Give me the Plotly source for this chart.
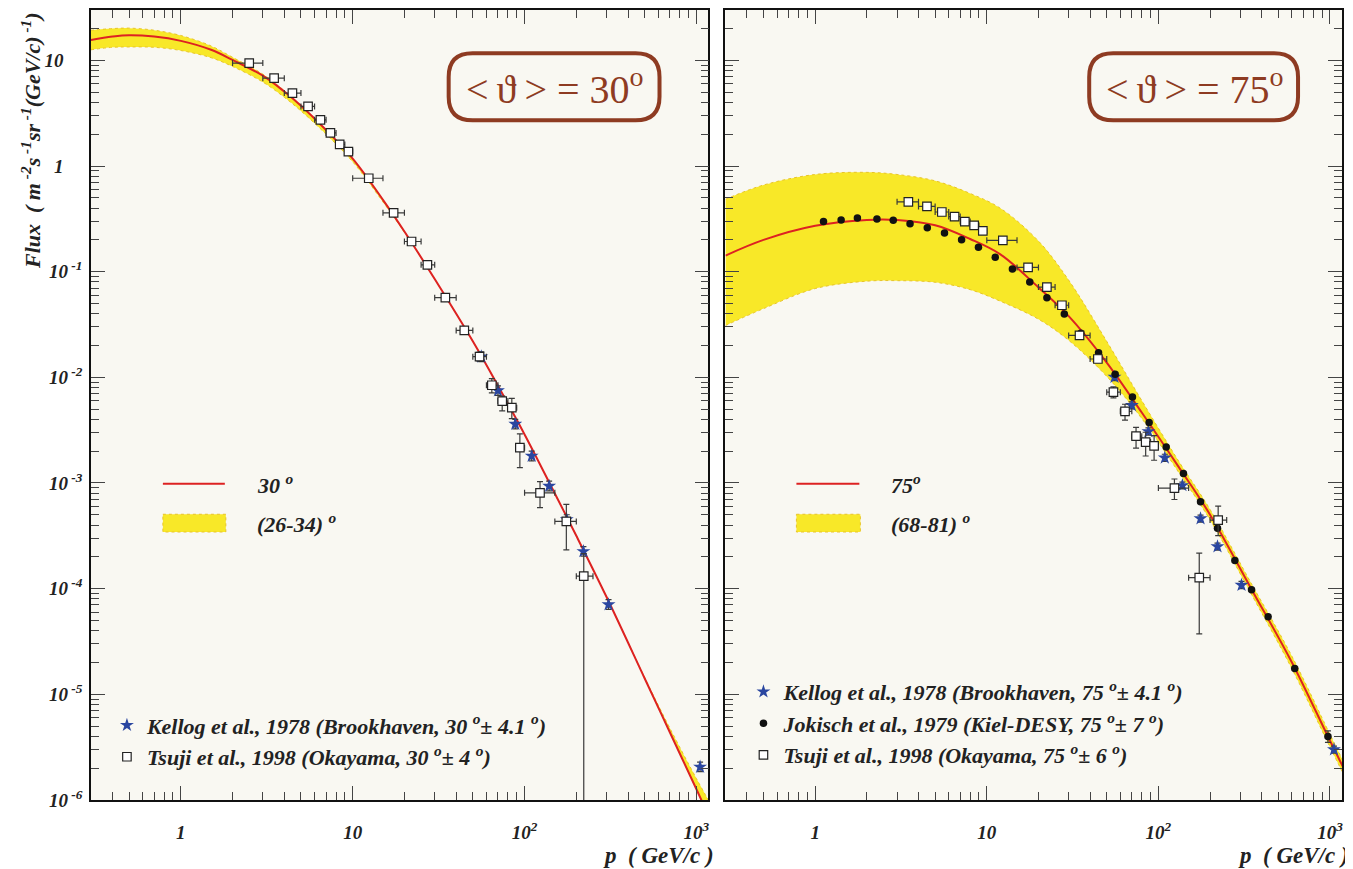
import plotly.graph_objects as go

W, H = 1353, 869
OFF = 8                       # page body margin of the exported html
FW, FH = W - OFF, H - OFF
SERIF = "Liberation Serif"
RED = "#DD2222"
YEL = "#F8E828"
YEL_EDGE = "#E8C42A"
BLUE = "#2A46A0"
BROWN = "#8E3B22"
ERRC = "#3a3a3a"
BG = "#F9F8F2"

# ---------------- curves ----------------
p30 = [0.3, 0.4, 0.5, 0.7, 1, 1.5, 2, 3, 4, 5, 7, 10, 15, 20, 30, 50, 70, 100, 150, 200, 300, 500, 700, 1000, 1200]
flux30 = [15.6, 16.8, 17.3, 16.8, 15.3, 12.6, 10.1, 7.16, 5.07, 3.72, 2.19, 1.175, 0.479, 0.240, 0.0851, 0.0219,
          0.00832, 0.00288, 7.94e-4, 3.16e-4, 8.32e-5, 1.41e-5, 4.37e-6, 1.26e-6, 6.61e-7]
band30_hi = [19.3, 20.0, 20.2, 19.3, 17.2, 13.7, 10.7, 7.41, 5.17, 3.76, 2.21, 1.175, 0.479, 0.240, 0.0851, 0.0219,
             0.00832, 0.00288, 7.94e-4, 3.16e-4, 8.32e-5, 1.44e-5, 4.79e-6, 1.59e-6, 9.34e-7]
band30_lo = [12.6, 13.3, 13.4, 13.3, 12.4, 10.6, 8.76, 6.24, 4.47, 3.32, 2.00, 1.096, 0.457, 0.235, 0.0851, 0.0219,
             0.00832, 0.00288, 7.94e-4, 3.16e-4, 8.32e-5, 1.41e-5, 4.37e-6, 1.26e-6, 6.61e-7]

p75 = [0.3, 0.5, 1, 2, 3, 5, 8, 12, 20, 30, 50, 80, 130, 200, 350, 600, 1000, 1200]
flux75 = [0.142, 0.200, 0.272, 0.309, 0.309, 0.275, 0.204, 0.146, 0.071, 0.0379, 0.01377, 0.00464, 0.00145,
          5.01e-4, 9.77e-5, 2.00e-5, 3.63e-6, 2.00e-6]
band75_hi = [0.485, 0.661, 0.832, 0.871, 0.832, 0.724, 0.550, 0.398, 0.195, 0.0832, 0.0219, 0.00603, 0.00165,
             5.62e-4, 1.10e-4, 2.29e-5, 4.17e-6, 2.29e-6]
band75_lo = [0.0309, 0.0447, 0.0692, 0.0813, 0.0822, 0.0794, 0.0676, 0.0525, 0.0355, 0.0224, 0.0102, 0.00407,
             0.00129, 4.47e-4, 8.71e-5, 1.74e-5, 3.16e-6, 1.74e-6]

# ---------------- data: 30 deg ----------------
kel30_p = [56.0, 70.0, 88.3, 110, 139, 176, 220, 308, 1050]
kel30_f = [0.01567, 0.0075, 0.00361, 0.0018, 0.000935, 0.000451, 0.000225, 7.07e-5, 2.05e-6]
kel30_hi = [0.0174, 0.0083, 0.0040, 0.0020, 0.00104, 0.000500, 0.000250, 7.85e-5, 2.28e-6]
kel30_lo = [0.0141, 0.00675, 0.00325, 0.00162, 0.00084, 0.000406, 0.000203, 6.37e-5, 1.85e-6]

tsu30_p = [2.50, 3.49, 4.46, 5.50, 6.49, 7.42, 8.40, 9.44, 12.4, 17.3, 22.0, 27.2, 34.6, 44.6, 54.7, 64.5, 74.1,
           84.3, 93.9, 123, 175, 221]
tsu30_f = [9.44, 6.79, 4.90, 3.67, 2.74, 2.06, 1.60, 1.37, 0.766, 0.361, 0.193, 0.116, 0.0568, 0.0278, 0.01567,
           0.00841, 0.00596, 0.00516, 0.00216, 0.000806, 0.000432, 0.000131]
tsu30_plo = [2, 3, 4, 5, 6, 7, 8, 9, 10, 15, 20, 25, 30, 40, 50, 60, 70, 80, 90, 100, 150, 200]
tsu30_phi = [3, 4, 5, 6, 7, 8, 9, 10, 15, 20, 25, 30, 40, 50, 60, 70, 80, 90, 100, 150, 200, 250]
tsu30_fhi = [9.9, 7.1, 5.1, 3.85, 2.87, 2.16, 1.68, 1.44, 0.80, 0.38, 0.203, 0.122, 0.060, 0.0293, 0.0173,
             0.0097, 0.00664, 0.00632, 0.00292, 0.00103, 0.000627, 0.000214]
tsu30_flo = [9.0, 6.5, 4.7, 3.5, 2.61, 1.96, 1.52, 1.30, 0.73, 0.344, 0.184, 0.110, 0.054, 0.0264, 0.0142,
             0.00713, 0.00481, 0.00407, 0.0014, 0.000583, 0.000233, 1e-9]

# ---------------- data: 75 deg ----------------
kel75_p = [55.5, 70, 87.5, 109, 138, 176, 221, 305, 1055]
kel75_f = [0.01004, 0.00543, 0.00307, 0.00173, 0.000948, 0.00046, 0.00025, 0.000108, 2.99e-6]
kel75_hi = [0.0108, 0.00586, 0.00332, 0.00187, 0.00102, 0.000497, 0.00027, 0.000117, 3.23e-6]
kel75_lo = [0.0093, 0.00503, 0.00284, 0.0016, 0.000878, 0.000426, 0.000231, 0.0001, 2.77e-6]

jok75_p = [1.118, 1.416, 1.762, 2.29, 2.85, 3.57, 4.50, 5.67, 7.13, 8.94, 11.2, 14.1, 17.8, 22.4, 28.3, 35.3,
           44.8, 56.0, 70.6, 88.3, 111, 140, 176, 221, 279, 349, 436, 623, 973]
jok75_f = [0.298, 0.309, 0.323, 0.316, 0.307, 0.284, 0.260, 0.232, 0.201, 0.170, 0.137, 0.106, 0.080, 0.0568,
           0.0397, 0.0262, 0.0171, 0.0107, 0.0065, 0.00374, 0.00219, 0.00123, 0.000664, 0.000372, 0.000185,
           9.75e-5, 5.42e-5, 1.75e-5, 3.98e-6]
jok75_hi = [0.298, 0.309, 0.323, 0.316, 0.307, 0.284, 0.260, 0.232, 0.201, 0.170, 0.137, 0.106, 0.080, 0.0568,
            0.0397, 0.0262, 0.0171, 0.0107, 0.0065, 0.00374, 0.00219, 0.00123, 0.000664, 0.000372, 0.000185,
            9.75e-5, 5.42e-5, 1.75e-5, 4.5e-6]
jok75_lo = [0.298, 0.309, 0.323, 0.316, 0.307, 0.284, 0.260, 0.232, 0.201, 0.170, 0.137, 0.106, 0.080, 0.0568,
            0.0397, 0.0262, 0.0171, 0.0107, 0.0065, 0.00374, 0.00219, 0.00123, 0.000664, 0.000372, 0.000185,
            9.75e-5, 5.42e-5, 1.75e-5, 3.5e-6]

tsu75_p = [3.49, 4.48, 5.47, 6.49, 7.45, 8.44, 9.48, 12.4, 17.4, 22.4, 27.4, 34.7, 44.4, 54.7, 63.9, 74.1, 84.3,
           94.4, 124, 223, 173]
tsu75_f = [0.458, 0.415, 0.367, 0.332, 0.298, 0.274, 0.243, 0.198, 0.1097, 0.0715, 0.0481, 0.0249, 0.0149,
           0.00723, 0.00477, 0.00277, 0.00244, 0.00224, 0.000895, 0.000445, 0.000127]
tsu75_plo = [3, 4, 5, 6, 7, 8, 9, 10, 15, 20, 25, 30, 40, 50, 60, 70, 80, 90, 100, 200, 150]
tsu75_phi = [4, 5, 6, 7, 8, 9, 10, 15, 20, 25, 30, 40, 50, 60, 70, 80, 90, 100, 150, 250, 200]
tsu75_fhi = [0.476, 0.432, 0.382, 0.345, 0.31, 0.285, 0.253, 0.206, 0.114, 0.0744, 0.05, 0.0259, 0.0155,
             0.00811, 0.00556, 0.00336, 0.00302, 0.00281, 0.00109, 0.000604, 0.000217]
tsu75_flo = [0.44, 0.399, 0.353, 0.319, 0.287, 0.263, 0.234, 0.19, 0.1055, 0.0688, 0.0462, 0.0239, 0.0143,
             0.0064, 0.00394, 0.00214, 0.0018, 0.00164, 0.000697, 0.000317, 3.72e-5]

# ---------------- axis ticks ----------------
x_tickvals = [1, 10, 100, 1000]
x_ticktext = ["1", "10", "10<sup>2</sup>", "10<sup>3</sup>"]
y_tickvals = [1e-6, 1e-5, 1e-4, 1e-3, 1e-2, 1e-1, 1, 10]
y_ticktext = ["10<sup> -6</sup>", "10<sup> -5</sup>", "10<sup> -4</sup>", "10<sup> -3</sup>",
              "10<sup> -2</sup>", "10<sup> -1</sup>", "1\u2007\u2007", "10\u2007\u2007"]
x_minor = [m * 10 ** k for k in range(-1, 4) for m in range(2, 10)]
y_minor = [m * 10 ** k for k in range(-6, 2) for m in range(2, 10)]


def px_x(x):
    return (x - OFF) / FW


def px_y(y):
    return 1 - (y - OFF) / FH


fig = go.Figure()


def err(vals, hi, lo):
    return (dict(type="data", symmetric=False,
                 array=[h - v for h, v in zip(hi, vals)],
                 arrayminus=[v - l for v, l in zip(vals, lo)],
                 color=ERRC, thickness=1.2, width=3))


def add_panel(xa, ya, p, f, bhi, blo, legend, datasets):
    fig.add_trace(go.Scatter(x=p, y=blo, mode="lines", xaxis=xa, yaxis=ya, showlegend=False,
                             line=dict(color=YEL_EDGE, width=1, dash="dot", shape="spline"), hoverinfo="skip"))
    fig.add_trace(go.Scatter(x=p, y=bhi, mode="lines", xaxis=xa, yaxis=ya, showlegend=False, fill="tonexty",
                             fillcolor=YEL, line=dict(color=YEL_EDGE, width=1, dash="dot", shape="spline"),
                             hoverinfo="skip"))
    fig.add_trace(go.Scatter(x=p, y=f, mode="lines", xaxis=xa, yaxis=ya, showlegend=False,
                             line=dict(color=RED, width=2, shape="spline")))
    for i, d in enumerate(datasets):
        fig.add_trace(go.Scatter(x=d["p"], y=d["f"], mode="markers", xaxis=xa, yaxis=ya, name=d["name"],
                                 legend=legend, legendgroup=legend + str(i),
                                 marker=d["marker"], error_y=err(d["f"], d["fhi"], d["flo"]),
                                 error_x=(err(d["p"], d["phi"], d["plo"]) if "phi" in d else None)))


sq = dict(symbol="square", size=8.5, color="white", line=dict(color="#222", width=1.2))
st = dict(symbol="star", size=10.5, color=BLUE, line=dict(width=0))
dot = dict(symbol="circle", size=7.5, color="#111", line=dict(width=0))

add_panel("x", "y", p30, flux30, band30_hi, band30_lo, "legend", [
    dict(name="Kellog et al., 1978 (Brookhaven, 30 <sup>o</sup>\u00b1 4.1 <sup>o</sup>)", p=kel30_p, f=kel30_f,
         fhi=kel30_hi, flo=kel30_lo, marker=st),
    dict(name="Tsuji et al., 1998 (Okayama, 30 <sup>o</sup>\u00b1 4 <sup>o</sup>)", p=tsu30_p, f=tsu30_f,
         fhi=tsu30_fhi, flo=tsu30_flo, phi=tsu30_phi, plo=tsu30_plo, marker=sq),
])
add_panel("x2", "y2", p75, flux75, band75_hi, band75_lo, "legend2", [
    dict(name="Kellog et al., 1978 (Brookhaven, 75 <sup>o</sup>\u00b1 4.1 <sup>o</sup>)", p=kel75_p, f=kel75_f,
         fhi=kel75_hi, flo=kel75_lo, marker=st),
    dict(name="Jokisch et al., 1979 (Kiel-DESY, 75 <sup>o</sup>\u00b1 7 <sup>o</sup>)", p=jok75_p, f=jok75_f,
         fhi=jok75_hi, flo=jok75_lo, marker=dot),
    dict(name="Tsuji et al., 1998 (Okayama, 75 <sup>o</sup>\u00b1 6 <sup>o</sup>)", p=tsu75_p, f=tsu75_f,
         fhi=tsu75_fhi, flo=tsu75_flo, phi=tsu75_phi, plo=tsu75_plo, marker=sq),
])

tickfont = dict(family=SERIF, size=19, color="#222", weight="bold", style="italic")
common_x = dict(type="log", range=[-0.5229, 3.07], tickmode="array", tickvals=x_tickvals, ticktext=x_ticktext,
                ticks="inside", ticklen=14, tickwidth=1, tickcolor="#444", showline=True, linecolor="#111",
                linewidth=1.5, mirror="ticks", showgrid=False, zeroline=False, tickfont=tickfont,
                ticklabelstandoff=15,
                minor=dict(tickmode="array", tickvals=x_minor, ticks="inside", ticklen=8, tickcolor="#444",
                           tickwidth=1, showgrid=False))
common_y = dict(type="log", range=[-6, 1.477], tickmode="array", tickvals=y_tickvals, ticktext=y_ticktext,
                ticks="inside", ticklen=14, tickwidth=1, tickcolor="#444", showline=True, linecolor="#111",
                linewidth=1.5, mirror="ticks", showgrid=False, zeroline=False, tickfont=tickfont,
                ticklabelstandoff=3,
                minor=dict(tickmode="array", tickvals=y_minor, ticks="inside", ticklen=8, tickcolor="#444",
                           tickwidth=1, showgrid=False))

ydom = [px_y(810), px_y(8)]
fig.update_layout(
    width=FW, height=FH, autosize=False, margin=dict(l=0, r=0, t=0, b=0),
    paper_bgcolor="white", plot_bgcolor=BG,
    xaxis=dict(common_x, domain=[px_x(91), px_x(709)], anchor="y"),
    yaxis=dict(common_y, domain=ydom, anchor="x"),
    xaxis2=dict(common_x, domain=[px_x(726), px_x(1343)], anchor="y2"),
    yaxis2=dict(common_y, domain=ydom, anchor="x2", showticklabels=False),
    showlegend=True,
)

legfont = dict(family=SERIF, size=22, color="#222", weight="bold", style="italic")
fig.update_layout(
    legend=dict(x=px_x(107), y=px_y(713), xanchor="left", yanchor="top", bgcolor="rgba(0,0,0,0)",
                font=legfont, tracegroupgap=0, itemclick=False),
    legend2=dict(x=px_x(744), y=px_y(679), xanchor="left", yanchor="top", bgcolor="rgba(0,0,0,0)",
                 font=legfont, tracegroupgap=0, itemclick=False),
)


# ---------------- decorations: title boxes, curve legends ----------------
def rrect(x0, y0, x1, y1, r):
    X, Y = px_x, px_y
    return (f"M {X(x0 + r)},{Y(y0)} L {X(x1 - r)},{Y(y0)} Q {X(x1)},{Y(y0)} {X(x1)},{Y(y0 + r)} "
            f"L {X(x1)},{Y(y1 - r)} Q {X(x1)},{Y(y1)} {X(x1 - r)},{Y(y1)} L {X(x0 + r)},{Y(y1)} "
            f"Q {X(x0)},{Y(y1)} {X(x0)},{Y(y1 - r)} L {X(x0)},{Y(y0 + r)} Q {X(x0)},{Y(y0)} {X(x0 + r)},{Y(y0)} Z")


shapes = []
annots = []
for (bx0, bx1, ang) in [(449, 660, "30"), (1090, 1299, "75")]:
    shapes.append(dict(type="path", xref="paper", yref="paper", path=rrect(bx0, 52, bx1, 120, 24),
                       line=dict(color=BROWN, width=4), fillcolor="rgba(0,0,0,0)"))
    annots.append(dict(x=px_x((bx0 + bx1) / 2 + 1), y=px_y(86), xref="paper", yref="paper", showarrow=False,
                       text=f"&lt;\u2009\u03d1\u2009&gt; = {ang}<sup>o</sup>", xanchor="center", yanchor="middle",
                       font=dict(family=SERIF, size=40, color=BROWN)))

for (lx0, lx1, tx, t1, t2) in [(163, 225, 255, "30 <sup>o</sup>", "(26-34) <sup>o</sup>"),
                              (797, 860, 890, "75<sup>o</sup>", "(68-81) <sup>o</sup>")]:
    shapes.append(dict(type="line", xref="paper", yref="paper", x0=px_x(lx0), x1=px_x(lx1),
                       y0=px_y(489), y1=px_y(489), line=dict(color=RED, width=2)))
    shapes.append(dict(type="rect", xref="paper", yref="paper", x0=px_x(lx0), x1=px_x(lx1 + 1),
                       y0=px_y(520), y1=px_y(538), fillcolor=YEL, line=dict(color=YEL_EDGE, width=1, dash="dot")))
    annots.append(dict(x=px_x(tx), y=px_y(489), xref="paper", yref="paper", showarrow=False, text=t1,
                       xanchor="left", yanchor="middle", font=legfont))
    annots.append(dict(x=px_x(tx), y=px_y(529), xref="paper", yref="paper", showarrow=False, text=t2,
                       xanchor="left", yanchor="middle", font=legfont))

titlefont = dict(family=SERIF, size=23, color="#222", weight="bold", style="italic")
for xr in [717, 1352]:
    annots.append(dict(x=px_x(xr), y=px_y(866), xref="paper", yref="paper", showarrow=False,
                       text="p  ( GeV/c )", xanchor="right", yanchor="middle", font=titlefont))
annots.append(dict(x=px_x(31), y=px_y(140), xref="paper", yref="paper", showarrow=False, textangle=-90,
                   text="Flux  ( m<sup> -2</sup>s<sup> -1</sup>sr<sup> -1</sup>(GeV/c)<sup> -1</sup>)",
                   xanchor="center", yanchor="middle", font=dict(titlefont, size=22)))

fig.update_layout(shapes=shapes, annotations=annots)
fig.write_html("out.html")
